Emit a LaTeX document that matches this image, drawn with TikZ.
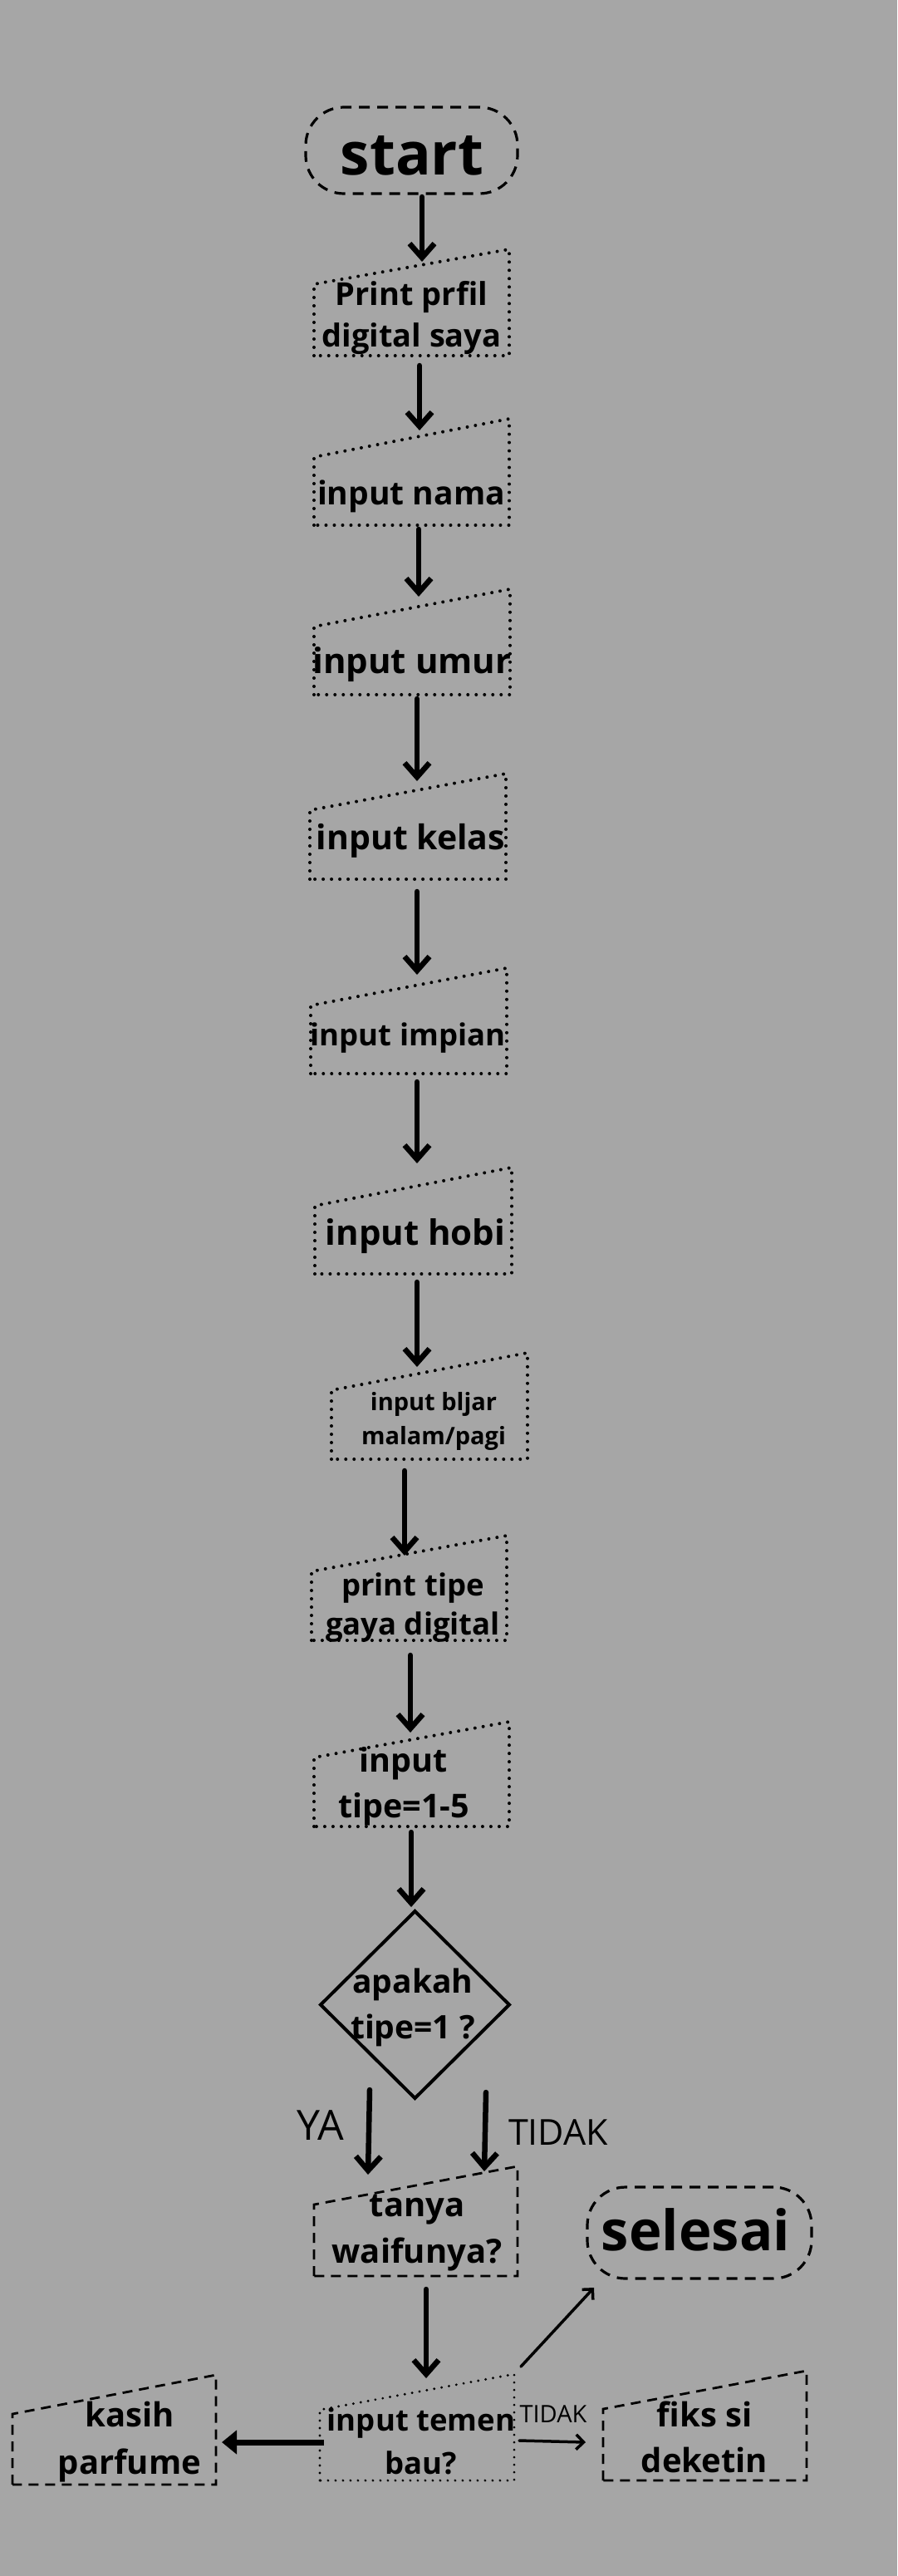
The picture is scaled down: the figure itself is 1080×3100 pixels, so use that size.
\documentclass[tikz,border=0pt]{standalone}
\usepackage{fontspec}
\setmainfont{Open Sans}
\usetikzlibrary{arrows.meta,calc,shapes.geometric}
\newcommand\ml[1]{\begin{tabular}[t]{@{}c@{}}#1\end{tabular}}
\newcommand\fsz[2]{\fontsize{#1}{#2}\selectfont}
\newcommand\maninp[3]{\draw[#3] (#1.south west) -- ($(#1.north west)+(0,#2)$) -- (#1.north east) -- (#1.south east) -- cycle;}
\definecolor{bg}{RGB}{166,166,166}
\begin{document}
\begin{tikzpicture}[x=1pt,y=-1pt,
  every node/.style={inner sep=0pt,outer sep=0pt},
  boxn/.style 2 args={rectangle,minimum width=#1,minimum height=#2},
  tb/.style 2 args={anchor=base,font=\bfseries\fsz{#1}{#2}},
  tr/.style={anchor=base,font=\fsz{#1}{#1}},
  dotb/.style={line width=4pt,line cap=round,dash pattern=on 0pt off 10pt},
  dotsm/.style={line width=3.2pt,line cap=round,dash pattern=on 0pt off 9pt},
  dashb/.style={line width=2.8pt,dash pattern=on 12pt off 8pt},
  termb/.style={draw,line width=3.2pt,dash pattern=on 13pt off 9pt,rounded corners=46pt},
  arr/.style={line width=6.5pt,line cap=round,-{Straight Barb[length=17pt,width=30pt,line width=6.5pt]}},
  thinarr/.style={line width=3.5pt,line cap=round,-{Straight Barb[length=9pt,width=18pt,line width=3.5pt]}},
  triarr/.style={line width=7pt,-{Triangle[length=18pt,width=28pt]}}
]
\useasboundingbox (0,0) rectangle (1080,3100);
\fill[bg] (0,0) rectangle (1080,3100);

% terminals
\node[termb,boxn={255}{104}] (start) at (495.5,181) {};
\node[tb={71}{80}] (tstart) at (496,210) {start};
\node[termb,boxn={270}{110}] (selesai) at (842,2687) {};
\node[tb={67}{75}] (tsel) at (837.5,2708) {selesai};

% manual input boxes
\node[boxn={235}{128}] (b1) at (495.5,364) {};
\maninp{b1}{42}{dotb}
\node[tb={38}{50}] (t1) at (495.5,367) {\ml{Print prfil\\digital saya}};

\node[boxn={235}{128}] (b2) at (495.5,568) {};
\maninp{b2}{46}{dotb}
\node[tb={39}{50}] (t2) at (495,607) {input nama};

\node[boxn={236}{127}] (b3) at (496,772.5) {};
\maninp{b3}{45}{dotb}
\node[tb={42}{50}] (t3) at (496,810) {input umur};

\node[boxn={236}{127}] (b4) at (491,994.5) {};
\maninp{b4}{44}{dotb}
\node[tb={41}{50}] (t4) at (494.5,1022) {input kelas};

\node[boxn={236}{127}] (b5) at (492,1228.5) {};
\maninp{b5}{45}{dotb}
\node[tb={36.5}{50}] (t5) at (491,1258) {input impian};

\node[boxn={237}{128}] (b6) at (497.5,1469) {};
\maninp{b6}{46}{dotb}
\node[tb={42}{50}] (t6) at (500,1498) {input hobi};

\node[boxn={236}{128}] (b7) at (517,1692) {};
\maninp{b7}{45}{dotb}
\node[tb={29}{41}] (t7) at (522,1697) {\ml{input bljar\\malam/pagi}};

\node[boxn={235}{126}] (b8) at (492.5,1911) {};
\maninp{b8}{43}{dotb}
\node[tb={36.5}{47}] (t8) at (497,1920) {\ml{print tipe\\gaya digital}};

\node[boxn={235}{126}] (b9) at (495.5,2135) {};
\maninp{b9}{43}{dotb}
\node[tb={39.5}{55}] (t9) at (486,2132) {\ml{input\\tipe=1-5}};

% decision
\node[diamond,draw,line width=4pt,minimum width=227,minimum height=225] (dia) at (499.5,2412.5) {};
\node[tb={39}{55}] (tdia) at (497,2398) {\ml{apakah\\tipe=1 ?}};

\node[boxn={245}{132}] (b10) at (500.5,2673) {};
\maninp{b10}{46}{dashb}
\node[tb={40}{56}] (t10) at (502,2667) {\ml{tanya\\waifunya?}};

\node[boxn={234}{128}] (b11) at (502,2921) {};
\maninp{b11}{43}{dotsm}
\node[tb={36.5}{52}] (t11) at (507,2925) {\ml{input temen\\bau?}};

\node[boxn={245}{132}] (b12) at (137.5,2924) {};
\maninp{b12}{47}{dashb}
\node[tb={40}{57}] (t12) at (156,2920) {\ml{kasih\\parfume}};

\node[boxn={245}{132}] (b13) at (848.5,2919) {};
\maninp{b13}{46}{dashb}
\node[tb={40}{55}] (t13) at (848,2920) {\ml{fiks si\\deketin}};

% branch labels
\node[tr=50] (lya) at (386,2575) {YA};
\node[tr=43] (ltidak) at (672,2581) {TIDAK};
\node[tr=29] (ltidak2) at (666,2915) {TIDAK};

% connectors
\draw[arr] ($(start.south)+(12.5,4)$) -- ($(b1.north)+(12.5,15)$);
\draw[arr] ($(b1.south)+(9.5,12)$) -- ($(b2.north)+(9.5,14)$);
\draw[arr] ($(b2.south)+(8.5,5)$) -- ($(b3.north)+(8,9)$);
\draw[arr] ($(b3.south)+(6,5)$) -- ($(b4.north)+(11,9)$);
\draw[arr] ($(b4.south)+(11,15)$) -- ($(b5.north)+(10,8)$);
\draw[arr] ($(b5.south)+(10,10)$) -- ($(b6.north)+(4.5,-5)$);
\draw[arr] ($(b6.south)+(4.5,10)$) -- ($(b7.north)+(-15,17)$);
\draw[arr] ($(b7.south)+(-30,14)$) -- ($(b8.north)+(-5.5,24)$);
\draw[arr] ($(b8.south)+(1.5,18)$) -- ($(b9.north)+(-1.5,13)$);
\draw[arr] ($(b9.south)+(-0.5,7)$) -- ($(dia.north)+(-4.5,-5)$);
\draw[arr] ($(dia.south)+(-54.5,-10)$) -- ($(b10.north)+(-57.5,10)$);
\draw[arr] ($(dia.south)+(85.5,-7)$) -- ($(b10.north)+(82.5,6)$);
\draw[arr] ($(b10.south)+(12.5,16)$) -- ($(b11.north)+(11,5)$);
\draw[thinarr] ($(b11.north east)+(8,-9)$) -- ($(selesai.south west)+(8,11)$);
\draw[thinarr] ($(b11.east)+(6,16)$) -- ($(b13.west)+(-21,20)$);
\draw[triarr] ($(b11.west)+(5,18)$) -- ($(b12.east)+(7,15)$);
\end{tikzpicture}
\end{document}
